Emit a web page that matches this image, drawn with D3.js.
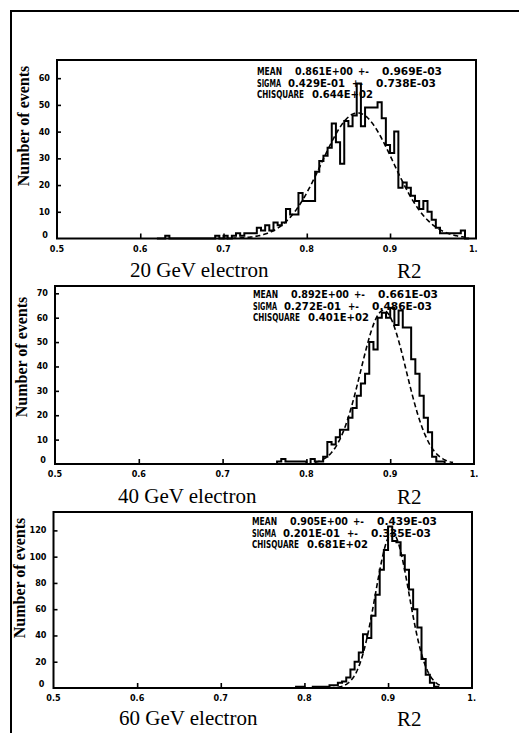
<!DOCTYPE html>
<html><head><meta charset="utf-8">
<script src="https://cdn.jsdelivr.net/npm/d3@7"></script>
<style>
html,body{margin:0;padding:0;background:#fff;}
svg{display:block;}
</style></head>
<body>
<svg id="chart" width="519" height="733"></svg>
<script>
// R2 distributions for electrons at three beam energies, with gaussian fits.
const binWidth = 0.005;
const xTickValues = [0.5, 0.6, 0.7, 0.8, 0.9, 1.0];
const xTickLabels = ["0.5", "0.6", "0.7", "0.8", "0.9", "1."];

const energies = ["20 GeV electron", "40 GeV electron", "60 GeV electron"];

// histogram contents (events per bin), first bin low edge given separately
const start20 = 0.62;
const counts20 = [0, 0, 1, 0, 0, 0, 0, 0, 0, 0, 0, 0, 0, 0, 1, 0, 1, 0, 1, 2,
  1, 2, 2, 2, 4, 3, 5, 3, 6, 5, 6, 11, 9, 9, 17, 14, 14, 14, 25, 29,
  31, 34, 43, 36, 28, 44, 42, 46, 58, 42, 49, 49, 49, 51, 45, 35, 32, 40, 19, 21,
  19, 16, 14, 11, 14, 10, 7, 4, 2, 2, 2, 2, 2, 3, 0];
const start40 = 0.76;
const counts40 = [0, 1, 2, 1, 1, 1, 1, 1, 0, 2, 1, 1, 3, 9, 8, 11, 14, 14, 19, 23,
  28, 33, 37, 50, 47, 60, 62, 60, 64, 57, 63, 56, 56, 43, 37, 28, 19, 13, 3, 1, 1, 0];
const start60 = 0.79;
const counts60 = [1, 1, 0, 0, 1, 1, 1, 1, 2, 2, 4, 5, 8, 14, 20, 27, 41, 38, 55, 71,
  90, 105, 123, 112, 111, 101, 90, 75, 60, 46, 22, 10, 4, 1, 0];

const yTicks20 = [0, 10, 20, 30, 40, 50, 60];
const yTicks40 = [0, 10, 20, 30, 40, 50, 60, 70];
const yTicks60 = [0, 20, 40, 60, 80, 100, 120];
const yMax = [66.8, 73, 134];

// fit results
const fitMean = [0.861, 0.892, 0.905];
const fitMeanErr = [0.000969, 0.000661, 0.000439];
const fitSigma = [0.0429, 0.0272, 0.0201];
const fitSigmaErr = [0.000738, 0.000486, 0.000335];
const fitChi2 = [64.4, 40.1, 68.1];
const fitPeak = [47, 63, 118];
const fitRange = [[0.70, 0.99], [0.81, 0.975], [0.83, 0.965]];

const svg = d3.select("#chart");

// page border
svg.append("path")
  .attr("d", "M11,733 L11,11 L519,11")
  .attr("fill", "none").attr("stroke", "#000").attr("stroke-width", 2);

// layout of each panel frame
const frames = [
  {left: 57, right: 476, xEnd: 473.3, top: 60, bottom: 238.5, ylab: [24, 126], txt: [257, 75], cap: [130, 277]},
  {left: 55, right: 474, xEnd: 474, top: 286, bottom: 464, ylab: [22, 357], txt: [253, 298], cap: [118, 503]},
  {left: 53.5, right: 472, xEnd: 471.7, top: 512, bottom: 688, ylab: [20, 578], txt: [252, 525], cap: [119, 725]}
];

const histStarts = [start20, start40, start60];
const histCounts = [counts20, counts40, counts60];
const yTickSets = [yTicks20, yTicks40, yTicks60];

function fmtE(v) {
  const e = Math.floor(Math.log10(v)) + 1;
  const m = v / Math.pow(10, e);
  const sign = e < 0 ? "-" : "+";
  return m.toFixed(3) + "E" + sign + String(Math.abs(e)).padStart(2, "0");
}

const tickFont = "'DejaVu Sans Condensed', 'DejaVu Sans', sans-serif";

frames.forEach((f, p) => {
  const g = svg.append("g");
  const x = d3.scaleLinear().domain([0.5, 1.0]).range([f.left, f.xEnd]);
  const y = d3.scaleLinear().domain([0, yMax[p]]).range([f.bottom, f.top]);

  // frame
  g.append("rect")
    .attr("x", f.left).attr("y", f.top)
    .attr("width", f.right - f.left).attr("height", f.bottom - f.top)
    .attr("fill", "none").attr("stroke", "#000").attr("stroke-width", 2);

  // x ticks (inward) and labels
  const xt = g.append("g").attr("transform", `translate(0,${f.bottom})`)
    .call(d3.axisTop(x).tickValues(xTickValues.slice(1, 5)).tickSize(5).tickFormat(""));
  xt.select(".domain").remove();
  xt.selectAll("line").attr("stroke", "#000").attr("stroke-width", 1.6);

  g.selectAll(".xl").data(xTickValues).join("text")
    .attr("x", d => x(d)).attr("y", f.bottom + 13)
    .attr("text-anchor", "middle")
    .attr("font-family", tickFont).attr("font-weight", "bold").attr("font-size", 9)
    .text((d, i) => xTickLabels[i]);

  // y ticks (inward) and labels
  const yt = g.append("g").attr("transform", `translate(${f.left},0)`)
    .call(d3.axisRight(y).tickValues(yTickSets[p].slice(1)).tickSize(4).tickFormat(""));
  yt.select(".domain").remove();
  yt.selectAll("line").attr("stroke", "#000").attr("stroke-width", 1.6);

  g.selectAll(".yl").data(yTickSets[p]).join("text")
    .attr("x", d => d === 0 ? f.left - 9 : f.left - 7)
    .attr("y", d => d === 0 ? y(d) - 1 : y(d) + 3)
    .attr("text-anchor", "end")
    .attr("font-family", tickFont).attr("font-weight", "bold").attr("font-size", 9)
    .text(d => d);

  // axis titles
  g.append("text")
    .attr("transform", `translate(${f.ylab[0] + 5},${f.ylab[1]}) rotate(-90)`)
    .attr("text-anchor", "middle")
    .attr("font-family", "'Liberation Serif', 'Times New Roman', serif")
    .attr("font-weight", "bold").attr("font-size", 16)
    .text("Number of events");

  g.append("text")
    .attr("x", f.cap[0]).attr("y", f.cap[1])
    .attr("font-family", "'Liberation Serif', 'Times New Roman', serif")
    .attr("font-size", 21)
    .text(energies[p]);
  g.append("text")
    .attr("x", 397).attr("y", f.cap[1] + 1)
    .attr("font-family", "'Liberation Serif', 'Times New Roman', serif")
    .attr("font-size", 21)
    .text("R2");

  // histogram outline
  const start = histStarts[p];
  const counts = histCounts[p];
  const pts = [[start, 0]].concat(counts.map((c, i) => [start + i * binWidth, c]));
  pts.push([start + counts.length * binWidth, 0]);
  g.append("path")
    .attr("d", d3.line().x(d => x(d[0])).y(d => y(d[1])).curve(d3.curveStepAfter)(pts))
    .attr("fill", "none").attr("stroke", "#000").attr("stroke-width", 2)
    .attr("stroke-linejoin", "miter");

  // gaussian fit
  const gauss = v => fitPeak[p] * Math.exp(-0.5 * Math.pow((v - fitMean[p]) / fitSigma[p], 2));
  const fx = d3.range(fitRange[p][0], fitRange[p][1] + 1e-9, 0.001);
  g.append("path")
    .attr("d", d3.line().x(v => x(v)).y(v => y(gauss(v)))(fx))
    .attr("fill", "none").attr("stroke", "#000").attr("stroke-width", 1.6)
    .attr("stroke-dasharray", "5,3");

  // fit statistics
  const rows = [
    [["MEAN", 0, 25], [fmtE(fitMean[p]), 38, 58], ["+-", 101, 11], [fmtE(fitMeanErr[p]), 125, 60]],
    [["SIGMA", 0, 24], [fmtE(fitSigma[p]), 31, 57], ["+-", 95, 11], [fmtE(fitSigmaErr[p]), 119, 60]],
    [["CHISQUARE", 0, 47], [fmtE(fitChi2[p]), 55, 61]]
  ];
  rows.forEach((row, r) => {
    row.forEach(tok => {
      g.append("text")
        .attr("x", f.txt[0] + tok[1]).attr("y", f.txt[1] + r * 11.7)
        .attr("font-family", tickFont).attr("font-weight", "bold").attr("font-size", 10)
        .attr("textLength", tok[2]).attr("lengthAdjust", "spacingAndGlyphs")
        .text(tok[0]);
    });
  });
});
</script>
</body></html>
